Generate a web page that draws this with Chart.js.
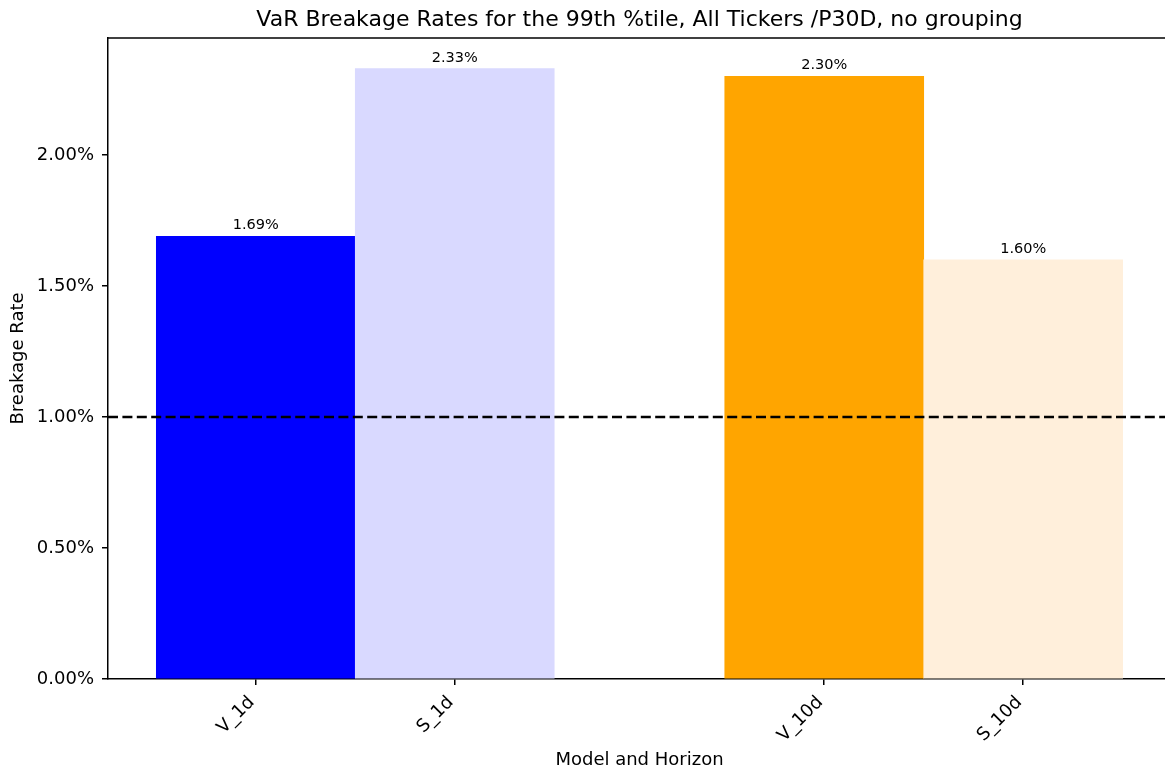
<!DOCTYPE html>
<html>
<head>
<meta charset="utf-8">
<title>VaR Breakage Rates</title>
<script src="https://cdn.jsdelivr.net/npm/chart.js@4/dist/chart.umd.min.js"></script>
<style>
  html, body { margin: 0; padding: 0; background: #fff; overflow: hidden; }
  #wrap { width: 1165px; height: 775px; overflow: hidden; }
</style>
</head>
<body>
<div id="wrap"><canvas id="varChart" width="1180" height="775"></canvas></div>
<script>
// bars: model / horizon, breakage rate in %
const categories = ["V_1d", "S_1d", "V_10d", "S_10d"];
const breakageRates = [1.69, 2.33, 2.30, 1.60];
const groupOf = [0, 0, 1, 1];          // 1d group, 10d group
const yTicks = [0, 0.5, 1, 1.5, 2];
const threshold = 1.0;                  // expected rate for the 99th pct
const chartTitle = "VaR Breakage Rates for the 99th %tile, All Tickers /P30D, no grouping";
const barColors = ["#0000ff", "#d9d9ff", "#ffa500", "#ffefdb"];

const barWidth = 0.35;
const xValues = categories.map((c, i) => groupOf[i] + (i % 2 === 0 ? -barWidth / 2 : barWidth / 2));

// same 5% margins as the original plot
const xLo = Math.min(...xValues) - barWidth / 2;
const xHi = Math.max(...xValues) + barWidth / 2;
const xPad = (xHi - xLo) * 0.05;
const yMax = Math.max(...breakageRates) * 1.05;

Chart.defaults.font.family = "'DejaVu Sans', sans-serif";
Chart.defaults.color = "#000";

const extras = {
  id: "extras",
  afterDatasetsDraw(chart) {
    const { ctx, chartArea, scales } = chart;
    ctx.save();
    // top spine
    ctx.strokeStyle = "#000";
    ctx.lineWidth = 1.5;
    ctx.beginPath();
    ctx.moveTo(chartArea.left, chartArea.top);
    ctx.lineTo(chartArea.right, chartArea.top);
    ctx.stroke();

    // threshold line
    const y = scales.y.getPixelForValue(threshold);
    ctx.setLineDash([10, 4.4]);
    ctx.lineWidth = 2.7;
    ctx.beginPath();
    ctx.moveTo(chartArea.left, y);
    ctx.lineTo(chartArea.right, y);
    ctx.stroke();
    ctx.setLineDash([]);

    // value labels
    ctx.fillStyle = "#000";
    ctx.font = "14.5px 'DejaVu Sans'";
    ctx.textAlign = "center";
    ctx.textBaseline = "alphabetic";
    chart.getDatasetMeta(0).data.forEach((bar, i) => {
      ctx.fillText(breakageRates[i].toFixed(2) + "%", bar.x, bar.y - 7);
    });

    // title, centred over the axes
    ctx.font = "22px 'DejaVu Sans'";
    ctx.fillText(chartTitle, (chartArea.left + chartArea.right) / 2, 26);
    ctx.restore();
  }
};

new Chart(document.getElementById("varChart"), {
  type: "bar",
  data: {
    datasets: [{
      data: xValues.map((x, i) => ({ x: x, y: breakageRates[i] })),
      backgroundColor: barColors,
      borderWidth: 0,
      barPercentage: 1,
      categoryPercentage: 1
    }]
  },
  options: {
    responsive: false,
    animation: false,
    devicePixelRatio: 1,
    layout: { padding: { left: 0, right: 9, top: 38, bottom: 0 } },
    plugins: {
      legend: { display: false },
      tooltip: { enabled: false },
      title: { display: false }
    },
    scales: {
      x: {
        type: "linear",
        offset: false,
        min: xLo - xPad,
        max: xHi + xPad,
        afterBuildTicks(scale) {
          scale.ticks = xValues.map(v => ({ value: v }));
        },
        afterFit(scale) { scale.height = 96; },
        ticks: {
          autoSkip: false,
          minRotation: 45,
          maxRotation: 45,
          padding: 7,
          labelOffset: -4,
          font: { size: 18 },
          callback: (v) => categories[xValues.indexOf(v)]
        },
        grid: { offset: false, drawOnChartArea: false, tickLength: 6, tickColor: "#000", lineWidth: 1.5 },
        border: { color: "#000", width: 1.5 },
        title: {
          display: true,
          text: "Model and Horizon",
          font: { size: 18 },
          padding: { top: 0, bottom: 4 }
        }
      },
      y: {
        min: 0,
        max: yMax,
        afterBuildTicks(scale) {
          scale.ticks = yTicks.map(v => ({ value: v }));
        },
        afterFit(scale) { scale.width = 108; },
        ticks: {
          padding: 8,
          font: { size: 18 },
          callback: (v) => v.toFixed(2) + "%"
        },
        grid: { drawOnChartArea: false, tickLength: 6, tickColor: "#000", lineWidth: 1.5 },
        border: { color: "#000", width: 1.5 },
        title: {
          display: true,
          text: "Breakage Rate",
          font: { size: 18 },
          padding: { top: 8, bottom: 0 }
        }
      }
    }
  },
  plugins: [extras]
});
</script>
</body>
</html>
